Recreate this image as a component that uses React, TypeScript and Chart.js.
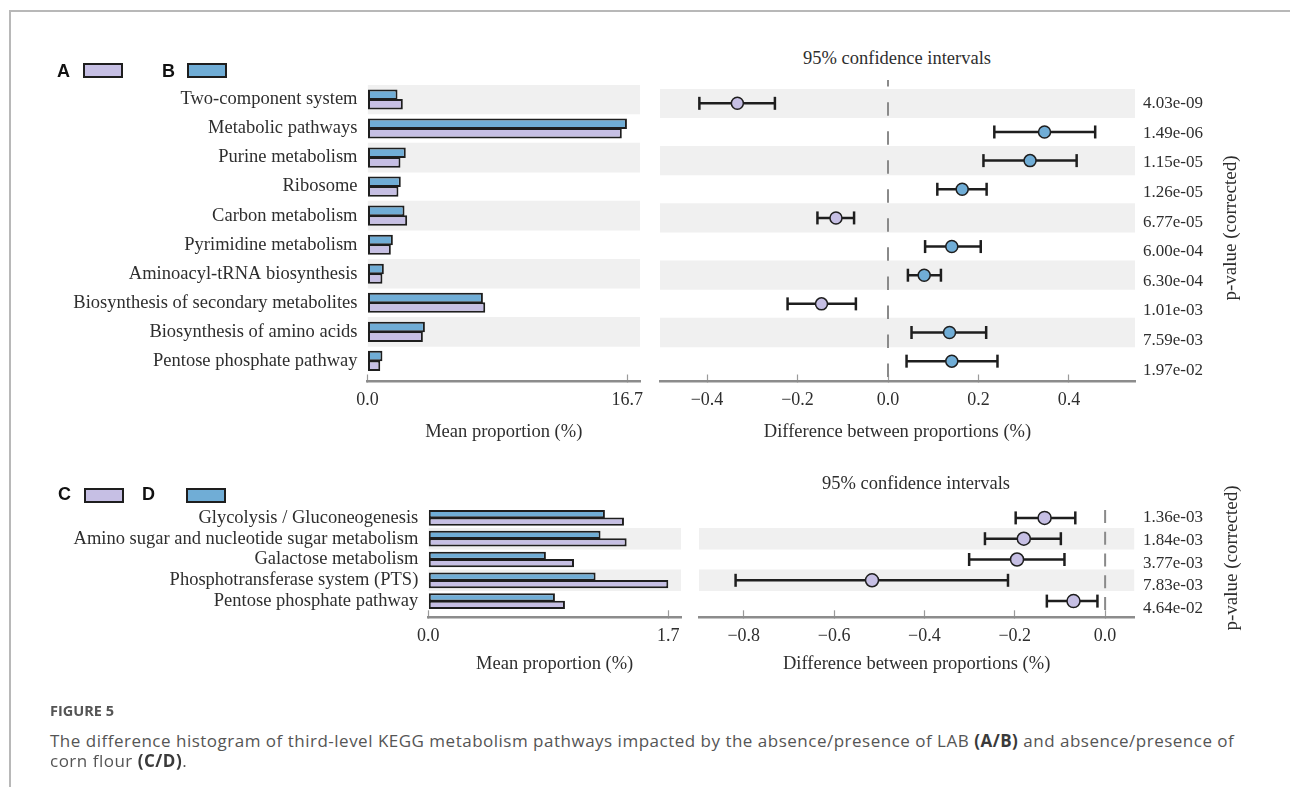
import React, { useEffect, useRef } from "react";
import { Chart, registerables } from "chart.js";

Chart.register(...registerables);

// ---------------- data ----------------
const pathwaysAB = [
  "Two-component system",
  "Metabolic pathways",
  "Purine metabolism",
  "Ribosome",
  "Carbon metabolism",
  "Pyrimidine metabolism",
  "Aminoacyl-tRNA biosynthesis",
  "Biosynthesis of secondary metabolites",
  "Biosynthesis of amino acids",
  "Pentose phosphate pathway",
];
const meanA = [2.27, 16.35, 2.12, 1.99, 2.55, 1.5, 0.96, 7.57, 3.56, 0.82];
const meanB = [1.93, 16.68, 2.46, 2.14, 2.38, 1.63, 1.05, 7.42, 3.69, 0.96];
const diffAB = [-0.333, 0.346, 0.314, 0.164, -0.115, 0.141, 0.08, -0.147, 0.136, 0.141];
const ciLowAB = [-0.417, 0.235, 0.211, 0.109, -0.156, 0.082, 0.044, -0.222, 0.052, 0.041];
const ciHighAB = [-0.25, 0.458, 0.417, 0.218, -0.075, 0.205, 0.117, -0.071, 0.217, 0.242];
const pValuesAB = ["4.03e-09", "1.49e-06", "1.15e-05", "1.26e-05", "6.77e-05", "6.00e-04", "6.30e-04", "1.01e-03", "7.59e-03", "1.97e-02"];
const meanTicksAB = [0, 16.7];
const diffTicksAB = [-0.4, -0.2, 0, 0.2, 0.4];

const pathwaysCD = [
  "Glycolysis / Gluconeogenesis",
  "Amino sugar and nucleotide sugar metabolism",
  "Galactose metabolism",
  "Phosphotransferase system (PTS)",
  "Pentose phosphate pathway",
];
const meanC = [1.386, 1.405, 1.032, 1.7, 0.968];
const meanD = [1.251, 1.22, 0.833, 1.185, 0.897];
const diffCD = [-0.134, -0.18, -0.195, -0.516, -0.07];
const ciLowCD = [-0.198, -0.266, -0.301, -0.818, -0.129];
const ciHighCD = [-0.066, -0.098, -0.09, -0.215, -0.017];
const pValuesCD = ["1.36e-03", "1.84e-03", "3.77e-03", "7.83e-03", "4.64e-02"];
const meanTicksCD = [0, 1.7];
const diffTicksCD = [-0.8, -0.6, -0.4, -0.2, 0];

// ---------------- style ----------------
const SERIF = '"Liberation Serif", "Times New Roman", Times, serif';
const SANS = '"Liberation Sans", Arial, sans-serif';
const TEXT = "#2e2e2e";
const BLUE = "#70add6";
const PURPLE = "#c6bfe4";
const EDGE = "#1e1e1e";
const BAND = "#f0f0f0";
const AXIS = "#8c8c8c";

const fmtDiff = (v: number) => (v < -1e-9 ? "\u2212" : "") + Math.abs(v).toFixed(1);

function xAxis(g: any, ticks: number[], title: string, fmt: (v: number) => string) {
  return {
    type: "linear",
    min: g.xMin,
    max: g.xMax,
    bounds: "data",
    offset: false,
    afterBuildTicks: (s: any) => {
      s.ticks = ticks.map((v) => ({ value: v }));
    },
    afterFit: (s: any) => {
      s.height = g.xHeight;
      s.paddingLeft = 0;
      s.paddingRight = 0;
    },
    ticks: {
      callback: (v: any) => fmt(Number(v)),
      font: { family: SERIF, size: 18 },
      color: TEXT,
      padding: 15,
      autoSkip: false,
      maxRotation: 0,
      minRotation: 0,
    },
    grid: {
      display: true,
      offset: false,
      drawOnChartArea: false,
      drawTicks: true,
      tickLength: -7,
      tickColor: "#9a9a9a",
      tickWidth: 1.2,
    },
    border: { display: true, color: AXIS, width: 2.5 },
    title: {
      display: true,
      text: title,
      font: { family: SERIF, size: 18.5 },
      color: TEXT,
      padding: 0,
    },
  };
}

function makeBarChart(canvas: HTMLCanvasElement, categories: string[], groupA: number[], groupB: number[], ticks: number[], g: any) {
  const rows = categories.map((_, i) => i);
  return new Chart(canvas, {
    type: "bar",
    data: {
      datasets: [
        {
          label: "B",
          data: groupB.map((v, i) => ({ x: v, y: i })),
          backgroundColor: BLUE,
          borderColor: EDGE,
          borderWidth: 2,
          borderSkipped: false,
          categoryPercentage: g.catPct,
          barPercentage: g.barPct,
          order: 1,
        },
        {
          label: "A",
          data: groupA.map((v, i) => ({ x: v, y: i })),
          backgroundColor: PURPLE,
          borderColor: EDGE,
          borderWidth: 2,
          borderSkipped: false,
          categoryPercentage: g.catPct,
          barPercentage: g.barPct,
          order: 1,
        },
        {
          label: "band",
          data: rows.filter((i) => i % 2 === g.bandParity).map((i) => ({ x: [0, g.xMax], y: i })),
          backgroundColor: BAND,
          borderWidth: 0,
          grouped: false,
          categoryPercentage: 1,
          barPercentage: 1,
          order: 10,
        },
      ],
    } as any,
    options: {
      indexAxis: "y",
      responsive: false,
      animation: false,
      devicePixelRatio: 1,
      events: [],
      layout: { padding: { left: g.padL, right: g.padR, top: g.padT, bottom: g.padB } },
      plugins: { legend: { display: false }, tooltip: { enabled: false }, title: { display: false } },
      scales: {
        x: xAxis({ ...g, xMin: 0 }, ticks, "Mean proportion (%)", (v) => v.toFixed(1)),
        y: {
          type: "linear",
          reverse: true,
          offset: false,
          min: -0.5,
          max: g.yMax,
          bounds: "data",
          afterBuildTicks: (s: any) => {
            s.ticks = rows.map((v) => ({ value: v }));
          },
          afterFit: (s: any) => {
            s.width = g.yWidth;
            s.paddingTop = 0;
            s.paddingBottom = 0;
          },
          ticks: {
            callback: (v: any) => categories[Number(v)] ?? "",
            font: { family: SERIF, size: 18.5 },
            color: TEXT,
            padding: 10,
            autoSkip: false,
          },
          grid: { display: false, drawTicks: false, offset: false },
          border: { display: false },
        },
      },
    } as any,
  });
}

function makeCIChart(canvas: HTMLCanvasElement, diff: number[], lo: number[], hi: number[], pvals: string[], ticks: number[], g: any) {
  const rows = diff.map((_, i) => i);
  return new Chart(canvas, {
    type: "scatter",
    data: {
      datasets: [
        {
          type: "scatter",
          label: "difference",
          data: diff.map((v, i) => ({ x: v, y: i })),
          pointRadius: g.pointRadius,
          pointBorderWidth: 1.5,
          pointBorderColor: EDGE,
          pointBackgroundColor: diff.map((v) => (v < 0 ? PURPLE : BLUE)),
          yAxisID: "y",
          clip: false,
          order: 1,
        },
        {
          type: "scatter",
          label: "caps",
          data: [...lo.map((v, i) => ({ x: v, y: i })), ...hi.map((v, i) => ({ x: v, y: i }))],
          pointStyle: "line",
          pointRotation: 90,
          pointRadius: g.capRadius,
          pointBorderWidth: 2.5,
          pointBorderColor: EDGE,
          pointBackgroundColor: EDGE,
          yAxisID: "y",
          clip: false,
          order: 2,
        },
        {
          type: "bar",
          label: "ci",
          indexAxis: "y",
          data: lo.map((v, i) => ({ x: [v, hi[i]], y: i })),
          backgroundColor: EDGE,
          borderWidth: 0,
          grouped: false,
          maxBarThickness: 2.5,
          yAxisID: "y",
          order: 3,
        },
        {
          type: "line",
          label: "zero",
          data: [
            { x: 0, y: g.zeroTop },
            { x: 0, y: g.yMax },
          ],
          borderColor: "#8a8a8a",
          borderWidth: 2,
          borderDash: g.dash,
          borderDashOffset: g.dashOffset,
          pointRadius: 0,
          yAxisID: "y",
          clip: false,
          order: 5,
        },
        {
          type: "bar",
          label: "band",
          indexAxis: "y",
          data: rows.filter((i) => i % 2 === g.bandParity).map((i) => ({ x: [g.xMin, g.xMax], y: i })),
          backgroundColor: BAND,
          borderWidth: 0,
          grouped: false,
          categoryPercentage: 1,
          barPercentage: 1,
          yAxisID: "y",
          order: 10,
        },
      ],
    } as any,
    options: {
      responsive: false,
      animation: false,
      devicePixelRatio: 1,
      events: [],
      layout: { padding: { left: g.padL, right: 0, top: g.padT, bottom: g.padB } },
      plugins: { legend: { display: false }, tooltip: { enabled: false }, title: { display: false } },
      scales: {
        x: xAxis(g, ticks, "Difference between proportions (%)", fmtDiff),
        y: {
          type: "linear",
          display: false,
          reverse: true,
          offset: false,
          min: -0.5,
          max: g.yMax,
          bounds: "data",
          grid: { offset: false },
          afterBuildTicks: (s: any) => {
            s.ticks = rows.map((v) => ({ value: v }));
          },
        },
        yp: {
          type: "linear",
          axis: "y",
          position: "right",
          reverse: true,
          offset: false,
          min: g.ypMin,
          max: g.ypMax,
          bounds: "data",
          afterBuildTicks: (s: any) => {
            s.ticks = rows.map((v) => ({ value: v }));
          },
          afterFit: (s: any) => {
            s.width = g.ypWidth;
            s.paddingTop = 0;
            s.paddingBottom = 0;
          },
          ticks: {
            callback: (v: any) => pvals[Number(v)] ?? "",
            font: { family: SERIF, size: 17 },
            color: TEXT,
            padding: g.pPad,
            autoSkip: false,
          },
          grid: { display: false, drawTicks: false, offset: false },
          border: { display: false },
        },
      },
    } as any,
  });
}

// ---------------- geometry (layout only) ----------------
const topBarGeom = { padL: 0, padR: 20, padT: 5, padB: 16.9, yWidth: 327.5, xHeight: 61.6, xMax: 17.52, yMax: 9.71, catPct: 0.66, barPct: 1.1, bandParity: 0 };
const topCIGeom = { padL: 10, padT: 5, padB: 16.9, ypWidth: 135, xHeight: 61.6, xMin: -0.504, xMax: 0.546, yMax: 9.71, ypMin: -0.5, ypMax: 9.383, bandParity: 0, zeroTop: -0.845, dash: [13.5, 15.54], dashOffset: 6, pointRadius: 6, capRadius: 6.5, pPad: 8 };
const botBarGeom = { padL: 0, padR: 19, padT: 27.5, padB: 34.9, yWidth: 388.3, xHeight: 57.8, xMax: 1.79, yMax: 4.779, catPct: 0.72, barPct: 1.1, bandParity: 1 };
const botCIGeom = { padL: 7.3, padT: 27.5, padB: 34.9, ypWidth: 135.7, xHeight: 57.8, xMin: -0.899, xMax: 0.0646, yMax: 4.779, ypMin: -0.4646, ypMax: 4.394, bandParity: 1, zeroTop: -0.38, dash: [13, 8.75], dashOffset: 0, pointRadius: 6.5, capRadius: 6.5, pPad: 8.7 };

const abs = (left: number, top: number, extra: any = {}) => ({ position: "absolute" as const, left, top, ...extra });

function LegendKey({ letter, x, y, boxX, boxY, color }: any) {
  return (
    <>
      <div style={abs(x, y, { font: `bold 18px ${SANS}`, lineHeight: "18px", color: "#111" })}>{letter}</div>
      <div style={abs(boxX, boxY, { width: 40, height: 15, boxSizing: "border-box", border: `2px solid ${EDGE}`, background: color })} />
    </>
  );
}

export default function App() {
  const c1 = useRef<HTMLCanvasElement>(null);
  const c2 = useRef<HTMLCanvasElement>(null);
  const c3 = useRef<HTMLCanvasElement>(null);
  const c4 = useRef<HTMLCanvasElement>(null);

  useEffect(() => {
    const charts = [
      makeBarChart(c1.current!, pathwaysAB, meanA, meanB, meanTicksAB, topBarGeom),
      makeCIChart(c2.current!, diffAB, ciLowAB, ciHighAB, pValuesAB, diffTicksAB, topCIGeom),
      makeBarChart(c3.current!, pathwaysCD, meanC, meanD, meanTicksCD, botBarGeom),
      makeCIChart(c4.current!, diffCD, ciLowCD, ciHighCD, pValuesCD, diffTicksCD, botCIGeom),
    ];
    return () => charts.forEach((c) => c.destroy());
  }, []);

  const serifText = { font: `18.5px ${SERIF}`, lineHeight: "18.5px", color: TEXT, whiteSpace: "nowrap" as const };
  const capStyle = { fontFamily: '"Open Sans", "Noto Sans", sans-serif', fontSize: 17, letterSpacing: "0.5px", lineHeight: "20.7px", color: "#555", whiteSpace: "nowrap" as const };

  return (
    <div style={{ position: "absolute", left: 0, top: 0, width: 1290, height: 787, background: "#fff", overflow: "hidden" }}>
      {/* frame */}
      <div style={abs(9, 10, { width: 1281, height: 1.5, background: "#b8b8b8" })} />
      <div style={abs(9, 10, { width: 1.5, height: 777, background: "#b8b8b8" })} />

      <canvas ref={c1} width={620} height={380} style={abs(40, 80, { width: 620, height: 380 })} />
      <canvas ref={c2} width={620} height={380} style={abs(650, 80, { width: 620, height: 380 })} />
      <canvas ref={c3} width={660} height={230} style={abs(40, 480, { width: 660, height: 230 })} />
      <canvas ref={c4} width={580} height={230} style={abs(690, 480, { width: 580, height: 230 })} />

      {/* legends */}
      <LegendKey letter="A" x={57} y={62} boxX={83} boxY={63} color={PURPLE} />
      <LegendKey letter="B" x={162} y={62} boxX={187} boxY={63} color={BLUE} />
      <LegendKey letter="C" x={58} y={485} boxX={84} boxY={488} color={PURPLE} />
      <LegendKey letter="D" x={142} y={485} boxX={186} boxY={488} color={BLUE} />

      {/* panel titles */}
      <div style={abs(897, 49, { ...serifText, transform: "translateX(-50%)" })}>95% confidence intervals</div>
      <div style={abs(916, 474, { ...serifText, transform: "translateX(-50%)" })}>95% confidence intervals</div>
      <div style={abs(1230, 228, { ...serifText, fontSize: 19, transform: "translate(-50%, -50%) rotate(-90deg)" })}>p-value (corrected)</div>
      <div style={abs(1231, 558, { ...serifText, fontSize: 19, transform: "translate(-50%, -50%) rotate(-90deg)" })}>p-value (corrected)</div>

      {/* caption */}
      <div style={abs(50, 703.5, { fontFamily: '"Open Sans", "Noto Sans", sans-serif', fontWeight: 700, fontSize: 14.5, lineHeight: "14.5px", color: "#555" })}>FIGURE 5</div>
      <div style={abs(50, 730.5, capStyle)}>
        The difference histogram of third-level KEGG metabolism pathways impacted by the absence/presence of LAB <b style={{ color: "#3a3a3a" }}>(A/B)</b> and absence/presence of
      </div>
      <div style={abs(50, 751.2, capStyle)}>
        corn flour <b style={{ color: "#3a3a3a" }}>(C/D)</b>.
      </div>
    </div>
  );
}
